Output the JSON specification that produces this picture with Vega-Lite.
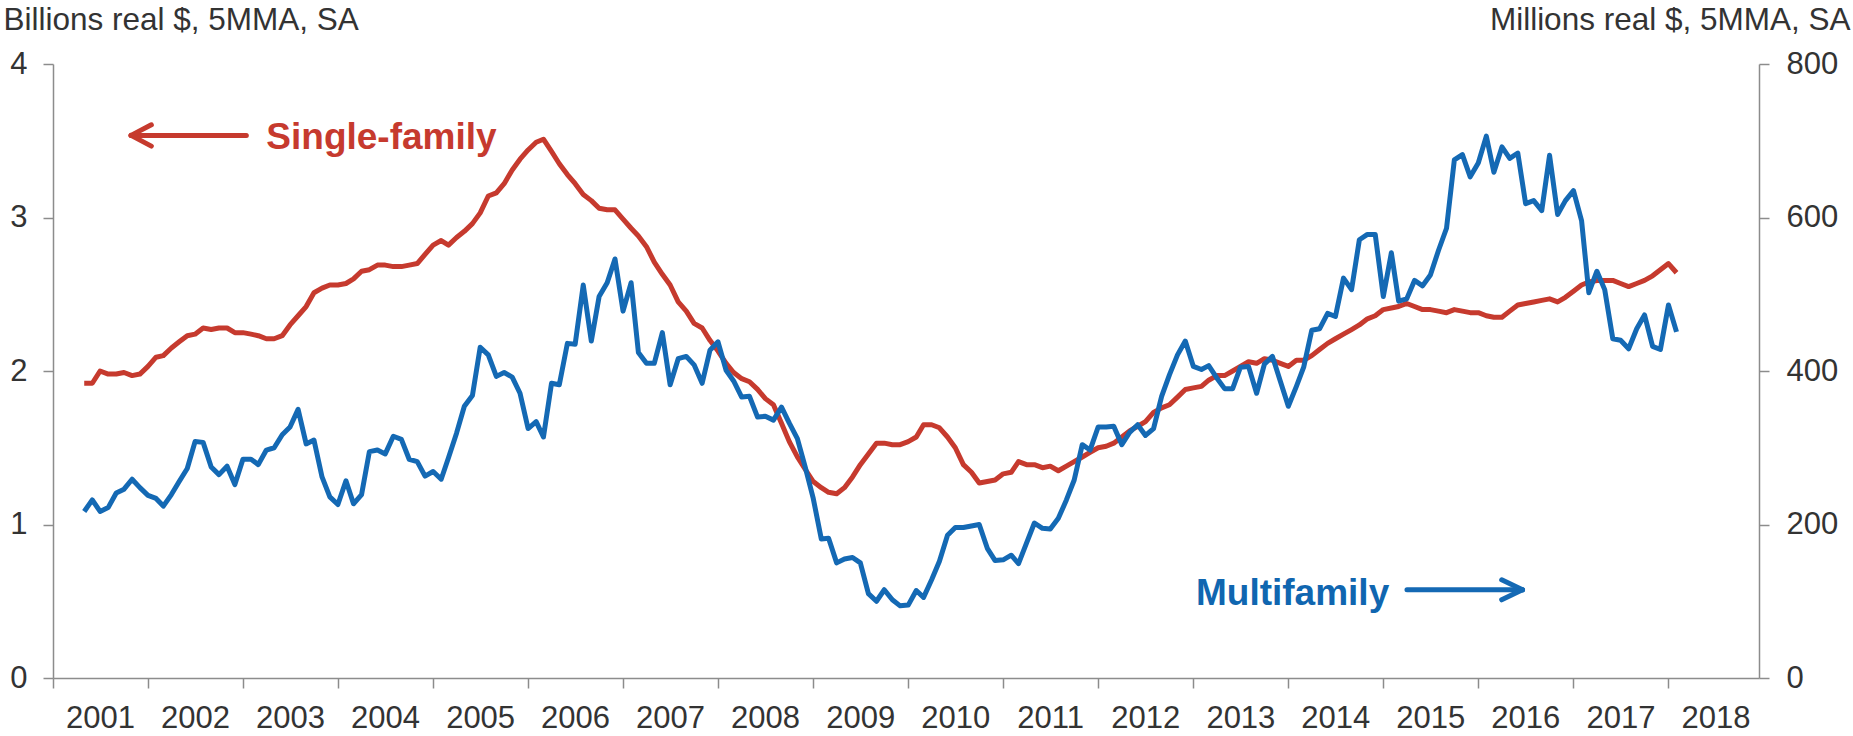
{
  "$schema": "https://vega.github.io/schema/vega-lite/v6.json",
  "width": 1706,
  "height": 614,
  "autosize": {"type": "none"},
  "padding": {"left": 53, "top": 64, "right": 94, "bottom": 58},
  "background": "white",
  "config": {
    "view": {"stroke": null},
    "font": "Liberation Sans",
    "axis": {"grid": false, "domainColor": "#8c8c8c", "tickColor": "#8c8c8c", "domainWidth": 1.5, "tickWidth": 1.5, "labelColor": "#333333", "labelFontSize": 31, "titleColor": "#333333", "titleFontSize": 31.5, "titleFontWeight": "normal"}
  },
  "datasets": {
    "series": [
      {"date": "2001-05-01", "sf": 1.92, "mf": 217}, {"date": "2001-06-01", "sf": 1.92, "mf": 232}, {"date": "2001-07-01", "sf": 2.00, "mf": 217}, {"date": "2001-08-01", "sf": 1.98, "mf": 222}, {"date": "2001-09-01", "sf": 1.98, "mf": 241}, {"date": "2001-10-01", "sf": 1.99, "mf": 246}, {"date": "2001-11-01", "sf": 1.97, "mf": 259}, {"date": "2001-12-01", "sf": 1.98, "mf": 248},
      {"date": "2002-01-01", "sf": 2.03, "mf": 238}, {"date": "2002-02-01", "sf": 2.09, "mf": 234}, {"date": "2002-03-01", "sf": 2.10, "mf": 224}, {"date": "2002-04-01", "sf": 2.15, "mf": 239}, {"date": "2002-05-01", "sf": 2.19, "mf": 256}, {"date": "2002-06-01", "sf": 2.23, "mf": 273}, {"date": "2002-07-01", "sf": 2.24, "mf": 308}, {"date": "2002-08-01", "sf": 2.28, "mf": 307}, {"date": "2002-09-01", "sf": 2.27, "mf": 275}, {"date": "2002-10-01", "sf": 2.28, "mf": 265}, {"date": "2002-11-01", "sf": 2.28, "mf": 276}, {"date": "2002-12-01", "sf": 2.25, "mf": 252},
      {"date": "2003-01-01", "sf": 2.25, "mf": 285}, {"date": "2003-02-01", "sf": 2.24, "mf": 285}, {"date": "2003-03-01", "sf": 2.23, "mf": 278}, {"date": "2003-04-01", "sf": 2.21, "mf": 297}, {"date": "2003-05-01", "sf": 2.21, "mf": 300}, {"date": "2003-06-01", "sf": 2.23, "mf": 317}, {"date": "2003-07-01", "sf": 2.30, "mf": 327}, {"date": "2003-08-01", "sf": 2.36, "mf": 350}, {"date": "2003-09-01", "sf": 2.42, "mf": 305}, {"date": "2003-10-01", "sf": 2.51, "mf": 310}, {"date": "2003-11-01", "sf": 2.54, "mf": 262}, {"date": "2003-12-01", "sf": 2.56, "mf": 236},
      {"date": "2004-01-01", "sf": 2.56, "mf": 226}, {"date": "2004-02-01", "sf": 2.57, "mf": 257}, {"date": "2004-03-01", "sf": 2.60, "mf": 227}, {"date": "2004-04-01", "sf": 2.65, "mf": 239}, {"date": "2004-05-01", "sf": 2.66, "mf": 295}, {"date": "2004-06-01", "sf": 2.69, "mf": 297}, {"date": "2004-07-01", "sf": 2.69, "mf": 292}, {"date": "2004-08-01", "sf": 2.68, "mf": 315}, {"date": "2004-09-01", "sf": 2.68, "mf": 311}, {"date": "2004-10-01", "sf": 2.69, "mf": 285}, {"date": "2004-11-01", "sf": 2.70, "mf": 282}, {"date": "2004-12-01", "sf": 2.76, "mf": 263},
      {"date": "2005-01-01", "sf": 2.82, "mf": 269}, {"date": "2005-02-01", "sf": 2.85, "mf": 259}, {"date": "2005-03-01", "sf": 2.82, "mf": 287}, {"date": "2005-04-01", "sf": 2.87, "mf": 319}, {"date": "2005-05-01", "sf": 2.91, "mf": 354}, {"date": "2005-06-01", "sf": 2.96, "mf": 368}, {"date": "2005-07-01", "sf": 3.03, "mf": 431}, {"date": "2005-08-01", "sf": 3.14, "mf": 421}, {"date": "2005-09-01", "sf": 3.16, "mf": 393}, {"date": "2005-10-01", "sf": 3.22, "mf": 398}, {"date": "2005-11-01", "sf": 3.31, "mf": 392}, {"date": "2005-12-01", "sf": 3.38, "mf": 371},
      {"date": "2006-01-01", "sf": 3.44, "mf": 325}, {"date": "2006-02-01", "sf": 3.49, "mf": 334}, {"date": "2006-03-01", "sf": 3.51, "mf": 314}, {"date": "2006-04-01", "sf": 3.43, "mf": 384}, {"date": "2006-05-01", "sf": 3.35, "mf": 382}, {"date": "2006-06-01", "sf": 3.28, "mf": 436}, {"date": "2006-07-01", "sf": 3.22, "mf": 435}, {"date": "2006-08-01", "sf": 3.15, "mf": 512}, {"date": "2006-09-01", "sf": 3.11, "mf": 439}, {"date": "2006-10-01", "sf": 3.06, "mf": 497}, {"date": "2006-11-01", "sf": 3.05, "mf": 515}, {"date": "2006-12-01", "sf": 3.05, "mf": 546},
      {"date": "2007-01-01", "sf": 2.99, "mf": 478}, {"date": "2007-02-01", "sf": 2.93, "mf": 515}, {"date": "2007-03-01", "sf": 2.88, "mf": 424}, {"date": "2007-04-01", "sf": 2.81, "mf": 410}, {"date": "2007-05-01", "sf": 2.71, "mf": 410}, {"date": "2007-06-01", "sf": 2.63, "mf": 450}, {"date": "2007-07-01", "sf": 2.56, "mf": 382}, {"date": "2007-08-01", "sf": 2.45, "mf": 416}, {"date": "2007-09-01", "sf": 2.39, "mf": 419}, {"date": "2007-10-01", "sf": 2.31, "mf": 408}, {"date": "2007-11-01", "sf": 2.28, "mf": 384}, {"date": "2007-12-01", "sf": 2.20, "mf": 427},
      {"date": "2008-01-01", "sf": 2.13, "mf": 438}, {"date": "2008-02-01", "sf": 2.05, "mf": 401}, {"date": "2008-03-01", "sf": 1.99, "mf": 387}, {"date": "2008-04-01", "sf": 1.95, "mf": 366}, {"date": "2008-05-01", "sf": 1.93, "mf": 367}, {"date": "2008-06-01", "sf": 1.88, "mf": 340}, {"date": "2008-07-01", "sf": 1.82, "mf": 341}, {"date": "2008-08-01", "sf": 1.78, "mf": 336}, {"date": "2008-09-01", "sf": 1.66, "mf": 353}, {"date": "2008-10-01", "sf": 1.54, "mf": 332}, {"date": "2008-11-01", "sf": 1.44, "mf": 312}, {"date": "2008-12-01", "sf": 1.36, "mf": 275},
      {"date": "2009-01-01", "sf": 1.28, "mf": 234}, {"date": "2009-02-01", "sf": 1.24, "mf": 181}, {"date": "2009-03-01", "sf": 1.21, "mf": 182}, {"date": "2009-04-01", "sf": 1.20, "mf": 150}, {"date": "2009-05-01", "sf": 1.24, "mf": 155}, {"date": "2009-06-01", "sf": 1.31, "mf": 157}, {"date": "2009-07-01", "sf": 1.39, "mf": 150}, {"date": "2009-08-01", "sf": 1.46, "mf": 110}, {"date": "2009-09-01", "sf": 1.53, "mf": 100}, {"date": "2009-10-01", "sf": 1.53, "mf": 115}, {"date": "2009-11-01", "sf": 1.52, "mf": 102}, {"date": "2009-12-01", "sf": 1.52, "mf": 94},
      {"date": "2010-01-01", "sf": 1.54, "mf": 95}, {"date": "2010-02-01", "sf": 1.57, "mf": 114}, {"date": "2010-03-01", "sf": 1.65, "mf": 105}, {"date": "2010-04-01", "sf": 1.65, "mf": 128}, {"date": "2010-05-01", "sf": 1.63, "mf": 152}, {"date": "2010-06-01", "sf": 1.57, "mf": 186}, {"date": "2010-07-01", "sf": 1.50, "mf": 196}, {"date": "2010-08-01", "sf": 1.39, "mf": 196}, {"date": "2010-09-01", "sf": 1.34, "mf": 198}, {"date": "2010-10-01", "sf": 1.27, "mf": 200}, {"date": "2010-11-01", "sf": 1.28, "mf": 169}, {"date": "2010-12-01", "sf": 1.29, "mf": 153},
      {"date": "2011-01-01", "sf": 1.33, "mf": 154}, {"date": "2011-02-01", "sf": 1.34, "mf": 160}, {"date": "2011-03-01", "sf": 1.41, "mf": 149}, {"date": "2011-04-01", "sf": 1.39, "mf": 176}, {"date": "2011-05-01", "sf": 1.39, "mf": 202}, {"date": "2011-06-01", "sf": 1.37, "mf": 195}, {"date": "2011-07-01", "sf": 1.38, "mf": 194}, {"date": "2011-08-01", "sf": 1.35, "mf": 208}, {"date": "2011-09-01", "sf": 1.38, "mf": 232}, {"date": "2011-10-01", "sf": 1.41, "mf": 258}, {"date": "2011-11-01", "sf": 1.44, "mf": 304}, {"date": "2011-12-01", "sf": 1.47, "mf": 297},
      {"date": "2012-01-01", "sf": 1.50, "mf": 327}, {"date": "2012-02-01", "sf": 1.51, "mf": 327}, {"date": "2012-03-01", "sf": 1.53, "mf": 328}, {"date": "2012-04-01", "sf": 1.57, "mf": 304}, {"date": "2012-05-01", "sf": 1.61, "mf": 320}, {"date": "2012-06-01", "sf": 1.64, "mf": 330}, {"date": "2012-07-01", "sf": 1.67, "mf": 316}, {"date": "2012-08-01", "sf": 1.73, "mf": 325}, {"date": "2012-09-01", "sf": 1.76, "mf": 367}, {"date": "2012-10-01", "sf": 1.78, "mf": 395}, {"date": "2012-11-01", "sf": 1.83, "mf": 421}, {"date": "2012-12-01", "sf": 1.88, "mf": 439},
      {"date": "2013-01-01", "sf": 1.89, "mf": 406}, {"date": "2013-02-01", "sf": 1.90, "mf": 402}, {"date": "2013-03-01", "sf": 1.94, "mf": 407}, {"date": "2013-04-01", "sf": 1.97, "mf": 391}, {"date": "2013-05-01", "sf": 1.97, "mf": 377}, {"date": "2013-06-01", "sf": 2.00, "mf": 377}, {"date": "2013-07-01", "sf": 2.03, "mf": 405}, {"date": "2013-08-01", "sf": 2.06, "mf": 406}, {"date": "2013-09-01", "sf": 2.05, "mf": 371}, {"date": "2013-10-01", "sf": 2.08, "mf": 409}, {"date": "2013-11-01", "sf": 2.07, "mf": 419}, {"date": "2013-12-01", "sf": 2.05, "mf": 387},
      {"date": "2014-01-01", "sf": 2.03, "mf": 354}, {"date": "2014-02-01", "sf": 2.07, "mf": 380}, {"date": "2014-03-01", "sf": 2.07, "mf": 405}, {"date": "2014-04-01", "sf": 2.10, "mf": 453}, {"date": "2014-05-01", "sf": 2.14, "mf": 455}, {"date": "2014-06-01", "sf": 2.18, "mf": 475}, {"date": "2014-07-01", "sf": 2.21, "mf": 471}, {"date": "2014-08-01", "sf": 2.24, "mf": 521}, {"date": "2014-09-01", "sf": 2.27, "mf": 506}, {"date": "2014-10-01", "sf": 2.30, "mf": 571}, {"date": "2014-11-01", "sf": 2.34, "mf": 578}, {"date": "2014-12-01", "sf": 2.36, "mf": 578},
      {"date": "2015-01-01", "sf": 2.40, "mf": 497}, {"date": "2015-02-01", "sf": 2.41, "mf": 554}, {"date": "2015-03-01", "sf": 2.42, "mf": 491}, {"date": "2015-04-01", "sf": 2.44, "mf": 494}, {"date": "2015-05-01", "sf": 2.42, "mf": 518}, {"date": "2015-06-01", "sf": 2.40, "mf": 511}, {"date": "2015-07-01", "sf": 2.40, "mf": 525}, {"date": "2015-08-01", "sf": 2.39, "mf": 557}, {"date": "2015-09-01", "sf": 2.38, "mf": 586}, {"date": "2015-10-01", "sf": 2.40, "mf": 675}, {"date": "2015-11-01", "sf": 2.39, "mf": 682}, {"date": "2015-12-01", "sf": 2.38, "mf": 653},
      {"date": "2016-01-01", "sf": 2.38, "mf": 671}, {"date": "2016-02-01", "sf": 2.36, "mf": 706}, {"date": "2016-03-01", "sf": 2.35, "mf": 659}, {"date": "2016-04-01", "sf": 2.35, "mf": 692}, {"date": "2016-05-01", "sf": 2.39, "mf": 677}, {"date": "2016-06-01", "sf": 2.43, "mf": 684}, {"date": "2016-07-01", "sf": 2.44, "mf": 618}, {"date": "2016-08-01", "sf": 2.45, "mf": 622}, {"date": "2016-09-01", "sf": 2.46, "mf": 609}, {"date": "2016-10-01", "sf": 2.47, "mf": 681}, {"date": "2016-11-01", "sf": 2.45, "mf": 604}, {"date": "2016-12-01", "sf": 2.48, "mf": 622},
      {"date": "2017-01-01", "sf": 2.52, "mf": 635}, {"date": "2017-02-01", "sf": 2.56, "mf": 596}, {"date": "2017-03-01", "sf": 2.58, "mf": 502}, {"date": "2017-04-01", "sf": 2.59, "mf": 530}, {"date": "2017-05-01", "sf": 2.59, "mf": 506}, {"date": "2017-06-01", "sf": 2.59, "mf": 442}, {"date": "2017-07-01", "sf": 2.57, "mf": 440}, {"date": "2017-08-01", "sf": 2.55, "mf": 429}, {"date": "2017-09-01", "sf": 2.57, "mf": 455}, {"date": "2017-10-01", "sf": 2.59, "mf": 473}, {"date": "2017-11-01", "sf": 2.62, "mf": 432}, {"date": "2017-12-01", "sf": 2.66, "mf": 428},
      {"date": "2018-01-01", "sf": 2.70, "mf": 486}, {"date": "2018-02-01", "sf": 2.64, "mf": 451}
    ],
    "sfArrow": [
      {"date": "2001-10-28", "date2": "2003-01-14", "v": 3.535, "v2": 3.535},
      {"date": "2001-10-28", "date2": "2002-01-14", "v": 3.535, "v2": 3.604},
      {"date": "2001-10-28", "date2": "2002-01-14", "v": 3.535, "v2": 3.465}
    ],
    "mfArrow": [
      {"date": "2015-04-02", "date2": "2016-06-19", "v": 114.9, "v2": 114.9},
      {"date": "2016-06-19", "date2": "2016-03-31", "v": 114.9, "v2": 127.9},
      {"date": "2016-06-19", "date2": "2016-03-31", "v": 114.9, "v2": 101.9}
    ],
    "sfLabel": [{"date": "2003-04-01", "v": 3.449, "text": "Single-family"}],
    "mfLabel": [{"date": "2013-01-11", "v": 95.4, "text": "Multifamily"}]
  },
  "layer": [
    {
      "data": {"name": "series"},
      "mark": {"type": "line", "color": "#C63A2E", "strokeWidth": 5, "strokeJoin": "round"},
      "encoding": {
        "x": {
          "field": "date", "type": "temporal",
          "scale": {"type": "utc", "domain": [{"year": 2001, "month": 1, "date": 1, "utc": true}, {"year": 2018, "month": 12, "date": 15, "utc": true}]},
          "axis": {
            "title": null,
            "values": [{"year": 2001, "utc": true}, {"year": 2002, "utc": true}, {"year": 2003, "utc": true}, {"year": 2004, "utc": true}, {"year": 2005, "utc": true}, {"year": 2006, "utc": true}, {"year": 2007, "utc": true}, {"year": 2008, "utc": true}, {"year": 2009, "utc": true}, {"year": 2010, "utc": true}, {"year": 2011, "utc": true}, {"year": 2012, "utc": true}, {"year": 2013, "utc": true}, {"year": 2014, "utc": true}, {"year": 2015, "utc": true}, {"year": 2016, "utc": true}, {"year": 2017, "utc": true}, {"year": 2018, "utc": true}],
            "format": "%Y",
            "labelOffset": 47,
            "labelOverlap": false,
            "labelBound": false,
            "labelFlush": false,
            "tickSize": 10,
            "labelPadding": 15
          }
        },
        "y": {
          "field": "sf", "type": "quantitative",
          "scale": {"domain": [0, 4], "nice": false, "zero": true},
          "axis": {
            "orient": "left", "values": [0, 1, 2, 3, 4], "tickSize": 10, "labelPadding": 16,
            "title": "Billions real $, 5MMA, SA", "titleAngle": 0, "titleAlign": "left", "titleAnchor": null,
            "titleX": -50, "titleY": -35, "titleBaseline": "alphabetic"
          }
        }
      }
    },
    {
      "data": {"name": "series"},
      "mark": {"type": "line", "color": "#1469B4", "strokeWidth": 5, "strokeJoin": "round"},
      "encoding": {
        "x": {"field": "date", "type": "temporal"},
        "y": {
          "field": "mf", "type": "quantitative",
          "scale": {"domain": [0, 800], "nice": false, "zero": true},
          "axis": {
            "orient": "right", "values": [0, 200, 400, 600, 800], "tickSize": 10, "labelPadding": 17,
            "title": "Millions real $, 5MMA, SA", "titleAngle": 0, "titleAlign": "right", "titleAnchor": null,
            "titleX": 91, "titleY": -35, "titleBaseline": "alphabetic"
          }
        }
      }
    },
    {
      "data": {"name": "sfArrow"},
      "mark": {"type": "rule", "color": "#C63A2E", "strokeWidth": 5, "strokeCap": "round"},
      "encoding": {
        "x": {"field": "date", "type": "temporal"},
        "x2": {"field": "date2"},
        "y": {"field": "v", "type": "quantitative", "scale": {"domain": [0, 4], "nice": false}, "axis": null},
        "y2": {"field": "v2"}
      }
    },
    {
      "data": {"name": "mfArrow"},
      "mark": {"type": "rule", "color": "#1469B4", "strokeWidth": 5, "strokeCap": "round"},
      "encoding": {
        "x": {"field": "date", "type": "temporal"},
        "x2": {"field": "date2"},
        "y": {"field": "v", "type": "quantitative", "scale": {"domain": [0, 800], "nice": false}, "axis": null},
        "y2": {"field": "v2"}
      }
    },
    {
      "data": {"name": "sfLabel"},
      "mark": {"type": "text", "color": "#C63A2E", "fontSize": 37, "fontWeight": "bold", "align": "left", "baseline": "alphabetic"},
      "encoding": {
        "x": {"field": "date", "type": "temporal"},
        "y": {"field": "v", "type": "quantitative", "scale": {"domain": [0, 4], "nice": false}, "axis": null},
        "text": {"field": "text"}
      }
    },
    {
      "data": {"name": "mfLabel"},
      "mark": {"type": "text", "color": "#1066B0", "fontSize": 37, "fontWeight": "bold", "align": "left", "baseline": "alphabetic"},
      "encoding": {
        "x": {"field": "date", "type": "temporal"},
        "y": {"field": "v", "type": "quantitative", "scale": {"domain": [0, 800], "nice": false}, "axis": null},
        "text": {"field": "text"}
      }
    }
  ],
  "resolve": {"scale": {"y": "independent"}}
}
